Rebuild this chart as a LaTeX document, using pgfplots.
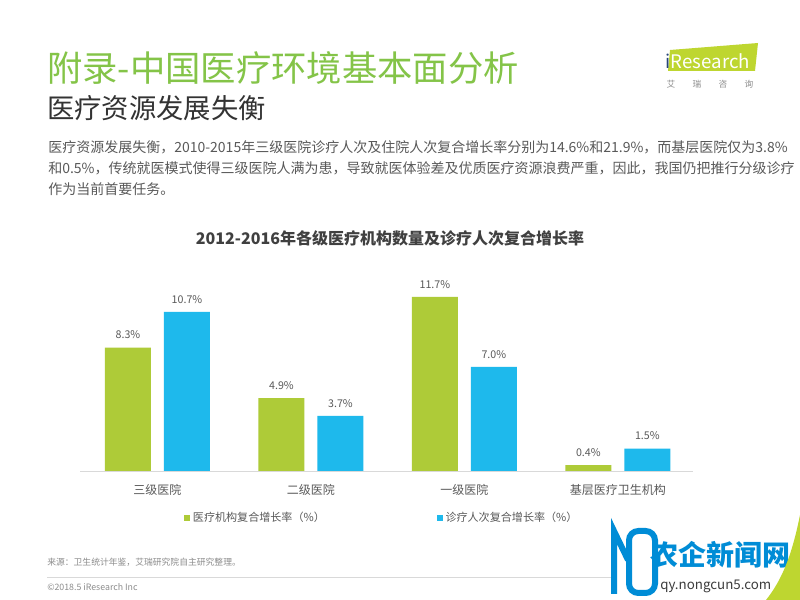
\documentclass[border=0pt]{standalone}
\usepackage{fontspec}
\setmainfont{Noto Sans CJK SC}
\usepackage{pgfplots}
\pgfplotsset{compat=1.18}
\definecolor{barGreen}{RGB}{174,203,56}
\definecolor{barBlue}{RGB}{30,185,236}
\definecolor{titleGreen}{RGB}{132,196,72}
\definecolor{subGray}{RGB}{51,51,51}
\definecolor{textGray}{RGB}{89,89,89}
\definecolor{chartTitle}{RGB}{64,64,64}
\definecolor{lineGray}{RGB}{217,217,217}
\definecolor{smallGray}{RGB}{140,140,140}
\definecolor{logoGreen}{RGB}{190,214,48}
\definecolor{logoNavy}{RGB}{40,70,120}
\definecolor{wmBlue}{RGB}{0,140,214}
\definecolor{wmDark}{RGB}{60,60,60}
\begin{document}
\begin{tikzpicture}[x=0.75pt,y=0.75pt]
\path[use as bounding box, fill=white] (0,0) rectangle (800,600);

% header
\node[anchor=west, inner sep=0, text=titleGreen, font=\fontsize{26.5}{30}\selectfont] at (47,532) {附录-中国医疗环境基本面分析};
\node[anchor=west, inner sep=0, text=subGray, font=\fontsize{20.5}{24}\selectfont] at (47,492) {医疗资源发展失衡};
\node[anchor=west, inner sep=0, text=textGray, font=\fontsize{10.5}{12}\selectfont] at (48,453) {医疗资源发展失衡，2010-2015年三级医院诊疗人次及住院人次复合增长率分别为14.6\%和21.9\%，而基层医院仅为3.8\%};
\node[anchor=west, inner sep=0, text=textGray, font=\fontsize{10.5}{12}\selectfont] at (48,432) {和0.5\%，传统就医模式使得三级医院人满为患，导致就医体验差及优质医疗资源浪费严重，因此，我国仍把推行分级诊疗};
\node[anchor=west, inner sep=0, text=textGray, font=\fontsize{10.5}{12}\selectfont] at (48,411) {作为当前首要任务。};

% logo
\fill[logoGreen] (670,550) -- (758,557) -- (755,529) -- (668,529) -- cycle;
\node[text=white, inner sep=0, font=\fontsize{14}{15}\selectfont] at (708,539) {\textcolor{logoNavy}{i}Research};
\node[text=smallGray, inner sep=0, font=\fontsize{6.5}{7}\selectfont] at (710,516) {艾\hspace{13pt}瑞\hspace{13pt}咨\hspace{13pt}询};

% chart title
\node[inner sep=0, text=chartTitle, font=\bfseries\fontsize{12}{14}\selectfont] at (390,362) {2012-2016年各级医疗机构数量及诊疗人次复合增长率};

\begin{axis}[
  at={(60pt,96.75pt)}, anchor=south west,
  scale only axis, width=459.75pt, height=145pt,
  xmin=-0.505, xmax=3.49, ymin=0, ymax=13,
  ybar=9.75pt, bar width=34.5pt,
  axis x line*=bottom, axis y line=none,
  x axis line style={draw=lineGray, line width=0.7pt, -},
  xtick={0,1,2,3},
  xticklabels={三级医院,二级医院,一级医院,基层医疗卫生机构},
  major tick length=0pt,
  xticklabel style={font=\fontsize{9}{10}\selectfont, text=textGray, yshift=-6.5pt},
  ytick=\empty,
  clip=false,
  nodes near coords={\pgfmathprintnumber{\pgfplotspointmeta}\%},
  nodes near coords style={font=\fontsize{8}{9}\selectfont, text=textGray, anchor=south, yshift=3pt},
  /pgf/number format/fixed,
  /pgf/number format/fixed zerofill,
  /pgf/number format/precision=1,
  /pgf/number format/assume math mode=true,
  legend style={at={(0.1697,-0.243)}, anchor=west, draw=none, fill=none,
    inner sep=0pt, font=\fontsize{8.3}{9}\selectfont, text=textGray,
    /tikz/every even column/.append style={column sep=82pt}},
  legend columns=2,
]
\addplot[fill=barGreen, draw=none,
  legend image code/.code={\fill[barGreen] (0pt,-2.25pt) rectangle (4.5pt,2.25pt);}]
  coordinates {(0,8.3) (1,4.9) (2,11.7) (3,0.4)};
\addlegendentry{医疗机构复合增长率（\%）}
\addplot[fill=barBlue, draw=none,
  legend image code/.code={\fill[barBlue] (0pt,-2.25pt) rectangle (4.5pt,2.25pt);}]
  coordinates {(0,10.7) (1,3.7) (2,7.0) (3,1.5)};
\addlegendentry{诊疗人次复合增长率（\%）}
\end{axis}

% footer
\node[anchor=west, inner sep=0, text=smallGray, font=\fontsize{6.6}{8}\selectfont] at (47,38) {来源：卫生统计年鉴，艾瑞研究院自主研究整理。};
\draw[lineGray, line width=0.6pt] (47,23) -- (612,23);
\node[anchor=west, inner sep=0, text=smallGray, font=\fontsize{6.6}{8}\selectfont] at (47,13) {©2018.5 iResearch Inc};

% watermark
\draw[wmBlue, line width=4.5pt] (614,6) -- (614,69) -- (628,40);
\draw[wmBlue, line width=4.5pt, rounded corners=7pt] (629,69) -- (655,69) -- (655,7) -- (629,7) -- cycle;
\node[anchor=west, inner sep=0, text=wmBlue, font=\bfseries\fontsize{21}{22}\selectfont] at (650,45) {农企新闻网};
\node[anchor=west, inner sep=0, text=wmDark, font=\fontsize{10}{11}\selectfont] at (660,14) {qy.nongcun5.com};
\fill[logoGreen] (800,85) .. controls (792,45) and (782,20) .. (766,0) -- (800,0) -- cycle;
\end{tikzpicture}
\end{document}
